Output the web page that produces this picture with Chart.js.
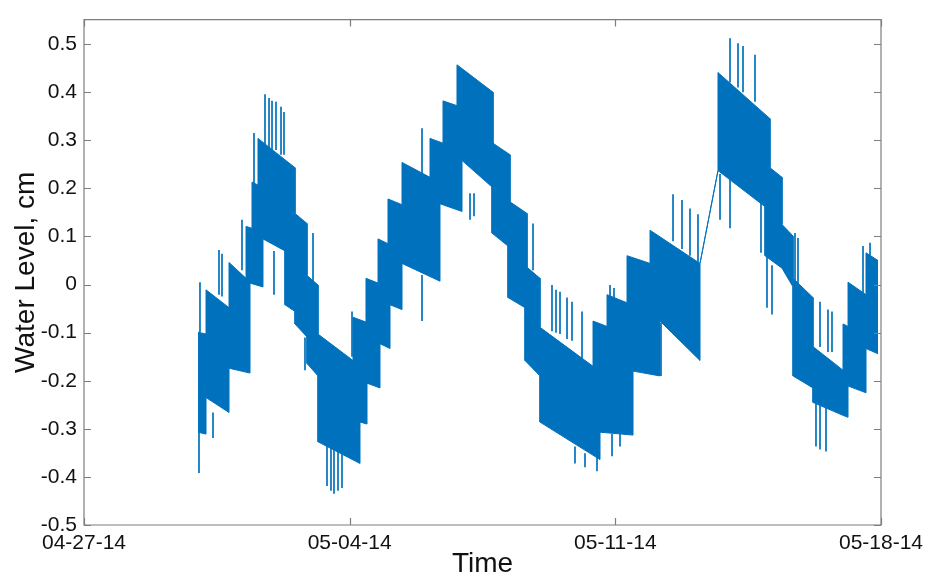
<!DOCTYPE html>
<html>
<head>
<meta charset="utf-8">
<title>Water Level</title>
<script src="https://cdn.jsdelivr.net/npm/chart.js@4.4.1/dist/chart.umd.min.js"></script>
<style>
  html, body { margin: 0; padding: 0; background: #fff; }
  #wrap { width: 930px; height: 581px; }
</style>
</head>
<body>
<div id="wrap"><canvas id="wl" width="930" height="581"></canvas></div>
<script>
// time axis: days after 04-27-14
const xTicks = [0, 7, 14, 21];
const xTickLabels = ["04-27-14", "05-04-14", "05-11-14", "05-18-14"];
const yTicks = [-0.5, -0.4, -0.3, -0.2, -0.1, 0, 0.1, 0.2, 0.3, 0.4, 0.5];

// upper edge of the logged band (cm)
const upperT = [3.004, 3.215, 3.215, 3.821, 3.821, 4.269, 4.269, 4.427, 4.427, 4.585, 4.585,
  5.560, 5.560, 5.876, 5.876, 6.166, 6.166, 7.088, 7.088, 7.430, 7.430, 7.747, 7.747, 8.010,
  8.010, 8.379, 8.379, 9.117, 9.117, 9.459, 9.459, 9.828, 9.828, 10.777, 10.777, 11.225, 11.225,
  11.673, 11.673, 12.015, 12.015, 13.412, 13.412, 13.781, 13.781, 14.308, 14.308, 14.914, 14.914,
  16.231, 16.705, 16.705, 18.075, 18.075, 18.392, 18.392, 18.682, 18.682, 19.208, 19.208, 19.999,
  19.999, 20.131, 20.131, 20.605, 20.605, 20.921];
const upperY = [-0.099, -0.103, -0.011, -0.048, 0.046, 0.013, 0.121, 0.117, 0.213, 0.207, 0.304,
  0.243, 0.148, 0.127, 0.019, -0.001, -0.103, -0.158, -0.068, -0.078, 0.013, 0.003, 0.095, 0.085,
  0.178, 0.166, 0.254, 0.223, 0.304, 0.294, 0.382, 0.372, 0.457, 0.400, 0.294, 0.270, 0.172,
  0.148, 0.036, 0.013, -0.089, -0.170, -0.076, -0.087, -0.021, -0.038, 0.060, 0.044, 0.113,
  0.044, 0.237, 0.441, 0.345, 0.243, 0.223, 0.125, 0.101, 0.013, -0.027, -0.129, -0.178,
  -0.082, -0.087, 0.005, -0.021, 0.066, 0.050];

// lower edge of the logged band (cm)
const lowerT = [3.004, 3.215, 3.215, 3.821, 3.821, 4.374, 4.374, 4.716, 4.716, 5.296, 5.296,
  5.560, 5.560, 5.876, 5.876, 6.166, 6.166, 7.272, 7.272, 7.457, 7.457, 7.799, 7.799, 8.063,
  8.063, 8.379, 8.379, 9.380, 9.380, 9.960, 9.960, 10.750, 10.750, 11.172, 11.172, 11.620, 11.620,
  12.015, 12.015, 13.596, 13.596, 14.466, 14.466, 15.177, 15.177, 16.231, 16.231, 16.705, 17.944,
  17.944, 18.392, 18.682, 18.682, 19.208, 19.208, 19.999, 20.131, 20.131, 20.605, 20.605, 20.921];
const lowerY = [-0.307, -0.311, -0.235, -0.266, -0.174, -0.184, 0.003, -0.005, 0.095, 0.070, -0.042,
  -0.056, -0.082, -0.109, -0.164, -0.190, -0.327, -0.372, -0.286, -0.290, -0.205, -0.215, -0.123,
  -0.133, -0.042, -0.052, 0.044, 0.007, 0.168, 0.152, 0.258, 0.203, 0.107, 0.080, -0.027, -0.048,
  -0.158, -0.190, -0.286, -0.364, -0.307, -0.313, -0.180, -0.190, -0.076, -0.158, 0.044, 0.237,
  0.162, 0.060, 0.034, -0.005, -0.190, -0.215, -0.245, -0.272, -0.276, -0.211, -0.225, -0.133,
  -0.144];

// single-sample excursions outside the band
const spikeT = [3.030, 3.056, 3.399, 3.557, 3.636, 4.163, 4.479, 4.690, 4.769, 4.875, 4.954, 5.006,
  5.059, 5.191, 5.270, 5.823, 6.034, 6.403, 6.508, 6.587, 6.693, 6.798, 7.062, 8.906, 8.906,
  10.171, 10.276, 11.831, 12.331, 12.437, 12.542, 12.727, 12.858, 12.937, 13.122, 13.201, 13.517,
  13.860, 13.913, 13.965, 14.123, 15.203, 15.520, 15.757, 15.967, 16.178, 16.758, 17.022, 17.022,
  17.232, 17.364, 17.680, 17.838, 17.996, 18.128, 18.734, 18.813, 19.287, 19.393, 19.393, 19.551,
  19.603, 19.709, 20.526, 20.711];
const spikeBase = [-0.307, -0.099, -0.266, -0.021, -0.025, 0.030, 0.209, 0.080, 0.280, 0.280, 0.280,
  0.070, 0.280, 0.270, 0.270, -0.110, 0.000, -0.330, -0.330, -0.335, -0.340, -0.340, -0.150, 0.230,
  0.020, 0.190, 0.190, 0.030, -0.097, -0.100, -0.103, -0.113, -0.117, -0.337, -0.154, -0.351,
  -0.357, -0.087, -0.311, -0.090, -0.311, -0.080, 0.090, 0.074, 0.060, 0.046, 0.230, 0.220, 0.420,
  0.410, 0.400, 0.380, 0.170, 0.060, 0.040, 0.000, 0.000, -0.245, -0.130, -0.245, -0.250, -0.140,
  -0.140, -0.020, 0.050];
const spikeTip = [-0.392, 0.005, -0.319, 0.072, 0.064, 0.135, 0.315, 0.005, 0.396, 0.388, 0.382,
  -0.021, 0.380, 0.370, 0.359, -0.178, 0.107, -0.419, -0.429, -0.435, -0.429, -0.423, -0.056, 0.325,
  -0.076, 0.135, 0.142, 0.127, -0.001, -0.011, -0.015, -0.027, -0.036, -0.372, -0.056, -0.380,
  -0.388, -0.001, -0.357, -0.007, -0.337, -0.190, 0.188, 0.176, 0.158, 0.146, 0.135, 0.117, 0.512,
  0.502, 0.496, 0.478, 0.066, -0.048, -0.062, 0.107, 0.097, -0.337, -0.036, -0.343, -0.347, -0.052,
  -0.056, 0.080, 0.087];

const BLUE = "#0072bd";
const FONT = "'Liberation Sans', Arial, Helvetica, sans-serif";

const upperPts = upperT.map((t, i) => ({ x: t, y: upperY[i] }));
const lowerPts = lowerT.map((t, i) => ({ x: t, y: lowerY[i] }));
const spikePts = [];
spikeT.forEach((t, i) => {
  spikePts.push({ x: t, y: spikeBase[i] }, { x: t, y: spikeTip[i] }, { x: t, y: null });
});

// box with inward ticks on all four sides
const boxFrame = {
  id: "boxFrame",
  afterDatasetsDraw(chart) {
    const { ctx, chartArea: a, scales } = chart;
    const len = 7;
    ctx.save();
    ctx.strokeStyle = "#7d7d7d";
    ctx.lineWidth = 1.2;
    ctx.beginPath();
    ctx.rect(a.left, a.top, a.right - a.left, a.bottom - a.top);
    yTicks.forEach((v) => {
      const py = Math.round(scales.y.getPixelForValue(v)) + 0.5;
      ctx.moveTo(a.left, py); ctx.lineTo(a.left + len, py);
      ctx.moveTo(a.right, py); ctx.lineTo(a.right - len, py);
    });
    xTicks.forEach((v) => {
      const px = Math.round(scales.x.getPixelForValue(v)) + 0.5;
      ctx.moveTo(px, a.bottom); ctx.lineTo(px, a.bottom - len);
      ctx.moveTo(px, a.top); ctx.lineTo(px, a.top + len);
    });
    ctx.stroke();
    ctx.restore();
  }
};

new Chart(document.getElementById("wl"), {
  type: "line",
  data: {
    datasets: [
      { data: lowerPts, borderColor: BLUE, borderWidth: 1, pointRadius: 0, fill: false },
      { data: upperPts, borderColor: BLUE, borderWidth: 1, pointRadius: 0,
        fill: "-1", backgroundColor: BLUE },
      { data: spikePts, borderColor: BLUE, borderWidth: 1.7, pointRadius: 0,
        fill: false, spanGaps: false }
    ]
  },
  options: {
    responsive: false,
    animation: false,
    devicePixelRatio: 1,
    layout: { padding: { left: 0, right: 49, top: 9, bottom: 0 } },
    plugins: { legend: { display: false }, tooltip: { enabled: false } },
    elements: { line: { tension: 0, borderCapStyle: "butt" } },
    scales: {
      x: {
        type: "linear",
        min: 0,
        max: 21,
        afterFit: (s) => { s.height = 56; },
        afterBuildTicks: (s) => { s.ticks = xTicks.map((v) => ({ value: v })); },
        grid: { display: false, drawTicks: false, tickLength: 0 },
        border: { display: false },
        ticks: {
          color: "#111",
          font: { family: FONT, size: 21 },
          padding: 6,
          maxRotation: 0,
          autoSkip: false,
          callback: (v) => xTickLabels[xTicks.indexOf(v)]
        },
        title: {
          display: true,
          text: "Time",
          color: "#111",
          font: { family: FONT, size: 28 },
          padding: { top: 0, bottom: 0 }
        }
      },
      y: {
        type: "linear",
        min: -0.5,
        max: 0.551,
        afterFit: (s) => { s.width = 84; },
        afterBuildTicks: (s) => { s.ticks = yTicks.map((v) => ({ value: v })); },
        grid: { display: false, drawTicks: false, tickLength: 0 },
        border: { display: false },
        ticks: {
          color: "#111",
          font: { family: FONT, size: 21 },
          padding: 7,
          callback: (v) => (Math.abs(v) < 1e-9 ? "0" : v.toFixed(1))
        },
        title: {
          display: true,
          text: "Water Level, cm",
          color: "#111",
          font: { family: FONT, size: 28 },
          padding: { top: 9, bottom: 0 }
        }
      }
    }
  },
  plugins: [boxFrame]
});
</script>
</body>
</html>
